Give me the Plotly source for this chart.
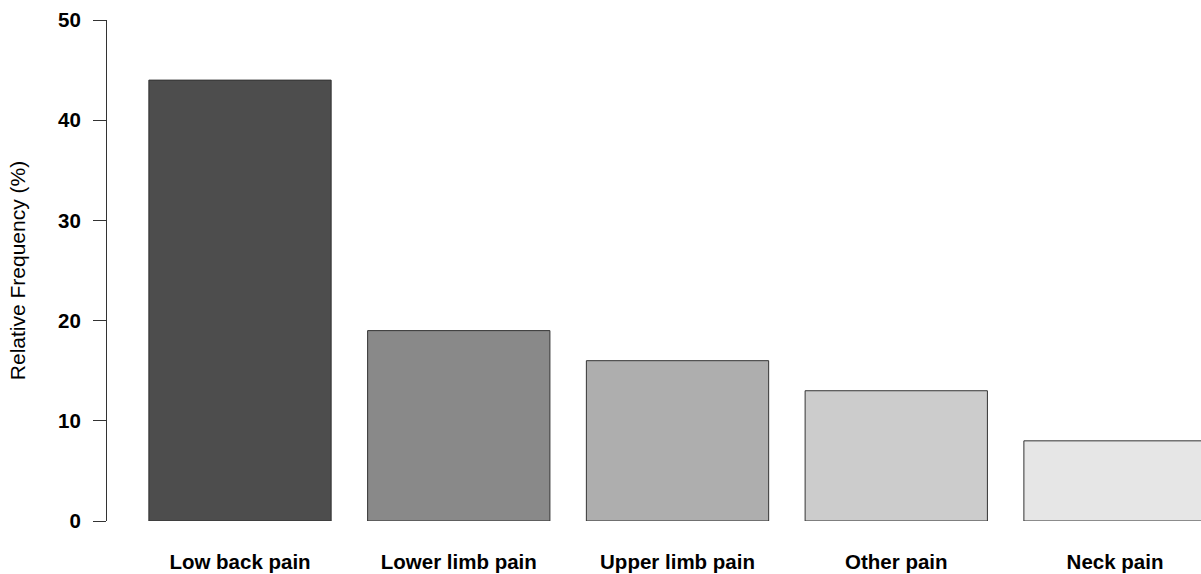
import plotly.graph_objects as go

categories = ["Low back pain", "Lower limb pain", "Upper limb pain", "Other pain", "Neck pain"]
frequency = [44, 19, 16, 13, 8]
bar_colors = ["#4D4D4D", "#898989", "#AEAEAE", "#CCCCCC", "#E6E6E6"]
y_ticks = [0, 10, 20, 30, 40, 50]

fig = go.Figure(
    go.Bar(
        x=list(range(len(categories))),
        y=frequency,
        width=1 / 1.2,
        marker=dict(color=bar_colors, line=dict(color="#333333", width=1)),
        hoverinfo="skip",
    )
)

fig.update_layout(
    width=1201,
    height=574,
    margin=dict(l=107, r=0, t=20, b=53),
    plot_bgcolor="white",
    paper_bgcolor="white",
    showlegend=False,
    font=dict(family="Liberation Sans, Arial, sans-serif", size=20, color="black"),
)

fig.update_xaxes(
    range=[-0.608, 4.393],
    tickvals=list(range(len(categories))),
    ticktext=categories,
    tickfont=dict(size=20.5, weight="bold"),
    ticks="outside",
    ticklen=22,
    tickcolor="rgba(0,0,0,0)",
    showline=False,
    showgrid=False,
    zeroline=False,
)

fig.update_yaxes(
    range=[0, 50],
    tickvals=y_ticks,
    tickfont=dict(size=20.5, weight="bold"),
    ticks="outside",
    ticklen=13,
    tickcolor="#333333",
    ticklabelstandoff=8,
    showline=True,
    linecolor="#333333",
    linewidth=1,
    showgrid=False,
    zeroline=False,
    title=dict(text="Relative Frequency (%)", font=dict(size=21), standoff=26),
)

# page body has a default margin; drop it so the figure fills the window
fig.write_html(
    "out.html",
    config={"displayModeBar": False},
    post_script="document.body.style.margin='0';document.body.style.overflow='hidden';",
)
